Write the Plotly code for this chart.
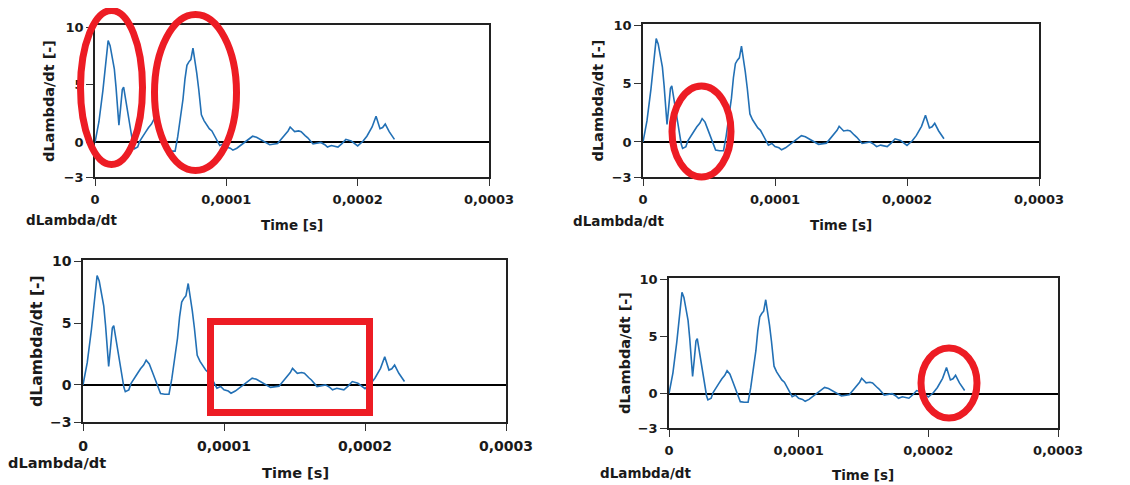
import plotly.graph_objects as go

# signal (same curve in all four panels)
time_s = [0, 3e-6, 6e-6, 8.5e-6, 1.0e-5, 1.15e-5, 1.3e-5, 1.47e-5, 1.6e-5, 1.7e-5, 1.82e-5,
          1.95e-5, 2.08e-5, 2.18e-5, 2.3e-5, 2.42e-5, 2.6e-5, 2.77e-5, 2.9e-5, 3.0e-5,
          3.12e-5, 3.25e-5, 3.4e-5, 3.6e-5, 3.85e-5, 4.08e-5, 4.3e-5, 4.48e-5, 4.7e-5,
          4.9e-5, 5.1e-5, 5.26e-5, 5.4e-5, 5.5e-5, 5.8e-5, 6.1e-5, 6.3e-5, 6.5e-5, 6.7e-5,
          6.85e-5, 7.0e-5, 7.15e-5, 7.3e-5, 7.46e-5, 7.6e-5, 7.75e-5, 7.9e-5, 8.1e-5,
          8.3e-5, 8.5e-5, 8.7e-5, 8.9e-5, 9.05e-5, 9.2e-5, 9.3e-5, 9.5e-5, 9.76e-5, 1.0e-4,
          1.03e-4, 1.05e-4, 1.08e-4, 1.12e-4, 1.166e-4, 1.2e-4, 1.23e-4, 1.26e-4, 1.3e-4,
          1.33e-4, 1.39e-4, 1.44e-4, 1.47e-4, 1.486e-4, 1.52e-4, 1.55e-4, 1.57e-4, 1.6e-4,
          1.62e-4, 1.66e-4, 1.7e-4, 1.72e-4, 1.75e-4, 1.77e-4, 1.8e-4, 1.83e-4, 1.85e-4,
          1.88e-4, 1.91e-4, 1.95e-4, 1.98e-4, 2.0e-4, 2.04e-4, 2.07e-4, 2.11e-4, 2.14e-4,
          2.17e-4, 2.19e-4, 2.21e-4, 2.24e-4, 2.28e-4]
dlambda_dt = [0, 1.8, 4.5, 7.2, 8.85, 8.4, 7.4, 6.4, 4.8, 3.2, 1.5,
              3.0, 4.6, 4.8, 4.0, 3.2, 1.8, 0.5, -0.2, -0.55,
              -0.5, -0.4, 0.1, 0.5, 0.9, 1.3, 1.6, 2.0, 1.7,
              1.1, 0.5, -0.1, -0.5, -0.7, -0.75, -0.75, 0.5, 2.0, 3.75,
              5.5, 6.7, 7.0, 7.2, 8.2, 7.2, 6.0, 4.6, 2.4,
              1.9, 1.5, 1.2, 1.0, 0.7, 0.3, 0.1, -0.27, -0.13, -0.4,
              -0.5, -0.67, -0.5, -0.13, 0.27, 0.54, 0.45, 0.27, 0.0,
              -0.2, -0.1, 0.54, 1.0, 1.34, 0.94, 1.0, 0.94, 0.6,
              0.4, -0.13, -0.05, 0.0, -0.2, -0.4, -0.27, -0.35, -0.4,
              -0.1, 0.27, 0.13, -0.1, -0.3, 0.1, 0.54, 1.34, 2.28,
              1.2, 1.3, 1.6, 0.94, 0.27]

y_ticks = [-3, 0, 5, 10]
x_ticks = [0, 0.0001, 0.0002, 0.0003]
x_tick_labels = ['0', '0,0001', '0,0002', '0,0003']

# page has an 8px body margin, so the figure sits at (8, 8)
OFF = 8
W, H = 1122, 477


def fx(px):
    return (px - OFF) / W


def fy(py):
    return 1 - (py - OFF) / H


# plot boxes in page pixels: left, right, top, bottom, y max, font scale,
# y-title x, x-title (x, y), name-label (x, y)
panels = [
    (95, 489, 25, 177, 10.2, 1.0, 49, (292, 225), (72, 220)),
    (643, 1039, 24, 177, 10.1, 1.0, 597, (841, 225), (618, 221)),
    (83, 506, 260, 422, 10.1, 1.08, 36, (295, 472), (57, 462)),
    (669, 1058, 278, 428, 10.1, 1.0, 625, (863, 475), (645, 473)),
]

fig = go.Figure()
layout = {}
annotations = []
for i, (l, r, t, b, ymax, k, ytx, xt, lab) in enumerate(panels, start=1):
    sfx = '' if i == 1 else str(i)
    tick_font = dict(family='DejaVu Sans', size=13 * k, color='#1a1a1a', weight='bold')
    lab_font = dict(family='DejaVu Sans', size=13.5 * k, color='#1a1a1a', weight='bold')
    ytitle_font = dict(family='DejaVu Sans', size=14.5 * k, color='#1a1a1a', weight='bold')
    fig.add_trace(go.Scatter(x=time_s, y=dlambda_dt, mode='lines',
                             line=dict(color='#2270b5', width=1.6),
                             xaxis='x' + sfx, yaxis='y' + sfx, showlegend=False))
    layout['xaxis' + sfx] = dict(domain=[fx(l), fx(r)], range=[0, 0.0003], anchor='y' + sfx,
                                 tickvals=x_ticks, ticktext=x_tick_labels, ticks='outside',
                                 ticklen=7, tickcolor='#333', tickfont=tick_font, showgrid=False,
                                 ticklabelstandoff=3, zeroline=False, showline=True, mirror=True,
                                 linecolor='#222', linewidth=1.5, automargin=False)
    layout['yaxis' + sfx] = dict(domain=[fy(b), fy(t)], range=[-3, ymax], anchor='x' + sfx,
                                 tickvals=y_ticks, ticks='outside', ticklen=7, tickcolor='#333',
                                 tickfont=tick_font, showgrid=False, zeroline=True,
                                 zerolinecolor='black', zerolinewidth=1.5, showline=True,
                                 mirror=True, linecolor='#222', linewidth=1.5, automargin=False)
    annotations.append(dict(text='dLambda/dt [-]', x=fx(ytx), y=fy((t + b) / 2), textangle=-90,
                            xref='paper', yref='paper', showarrow=False, font=ytitle_font,
                            xanchor='center', yanchor='middle'))
    annotations.append(dict(text='Time [s]', x=fx(xt[0]), y=fy(xt[1]), xref='paper',
                            yref='paper', showarrow=False, font=lab_font,
                            xanchor='center', yanchor='middle'))
    annotations.append(dict(text='dLambda/dt', x=fx(lab[0]), y=fy(lab[1]), xref='paper',
                            yref='paper', showarrow=False, font=lab_font,
                            xanchor='center', yanchor='middle'))

red = '#ed1c24'
shapes = []
for kind, x0, x1, y0, y1 in [('circle', 80.5, 142.5, 10.5, 164.5),
                             ('circle', 154.5, 236.5, 14.5, 170.5),
                             ('circle', 672, 731, 86, 177),
                             ('rect', 210.5, 369.5, 321.5, 412.5),
                             ('circle', 921, 977, 348, 418)]:
    shapes.append(dict(type=kind, xref='paper', yref='paper', x0=fx(x0), x1=fx(x1),
                       y0=fy(y1), y1=fy(y0), line=dict(color=red, width=7), layer='above'))

fig.update_layout(width=W, height=H, margin=dict(l=0, r=0, t=0, b=0, autoexpand=False),
                  paper_bgcolor='white', plot_bgcolor='white',
                  annotations=annotations, shapes=shapes, **layout)

fig.write_html("out.html")
